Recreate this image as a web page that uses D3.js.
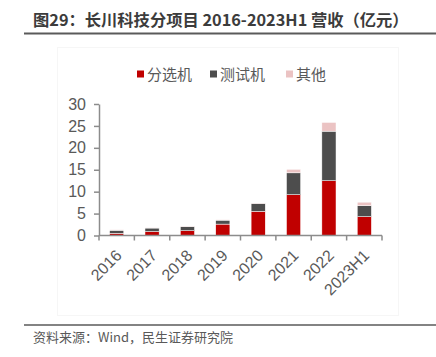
<!DOCTYPE html>
<html><head><meta charset="utf-8">
<script src="https://cdn.jsdelivr.net/npm/d3@7/dist/d3.min.js"></script>
<style>
html,body{margin:0;padding:0;background:#fff;}
svg{display:block;}
</style></head>
<body>
<script>
const categories = ["2016","2017","2018","2019","2020","2021","2022","2023H1"];
const sorter  = [0.5, 0.9, 1.1, 2.6, 5.5, 9.3, 12.5, 4.3];   // 分选机
const tester  = [0.7, 0.8, 0.9, 0.9, 1.8, 5.0, 11.3, 2.5];   // 测试机
const others  = [0.1, 0.1, 0.1, 0.1, 0.1, 0.8, 2.0, 0.8];    // 其他
const seriesNames = ["分选机","测试机","其他"];
const yTicks = [0,5,10,15,20,25,30];
const titleText = "图29：长川科技分项目 2016-2023H1 营收（亿元）";
const sourceText = "资料来源：Wind，民生证券研究院";

const W = 436, H = 357;
const colors = ["#C00000","#4D4D4D","#EBC3C3"];
const cjk = "'Noto Sans CJK SC','Noto Sans',sans-serif";
const num = "'Liberation Sans',Arial,sans-serif";

const svg = d3.select("body").append("svg").attr("width",W).attr("height",H);

// title
svg.append("text").attr("x",33).attr("y",26)
  .attr("font-family",cjk).attr("font-weight","bold").attr("font-size",16.3)
  .attr("fill","#3c3c3c").text(titleText);
svg.append("line").attr("x1",24).attr("x2",W).attr("y1",33.5).attr("y2",33.5)
  .attr("stroke","#5a5a5a").attr("stroke-width",1.8);

// faint chart area box
svg.append("rect").attr("x",57.5).attr("y",47.5).attr("width",341).attr("height",268)
  .attr("fill","none").attr("stroke","#f6f6f6").attr("stroke-width",1);

// footer
svg.append("line").attr("x1",24).attr("x2",W).attr("y1",325).attr("y2",325)
  .attr("stroke","#5a5a5a").attr("stroke-width",1.5);
svg.append("text").attr("x",33).attr("y",342)
  .attr("font-family",cjk).attr("font-size",13).attr("fill","#595959").text(sourceText);

// scales
const x = d3.scaleBand().domain(categories).range([99,382]).paddingInner(0.6).paddingOuter(0.3);
const y = d3.scaleLinear().domain([0,30]).range([235.5,104]);

const rows = categories.map((c,i)=>({cat:c, s0:sorter[i], s1:tester[i], s2:others[i]}));
const stack = d3.stack().keys(["s0","s1","s2"])(rows);

const g = svg.append("g");
stack.forEach((layer,k)=>{
  g.selectAll(null).data(layer).enter().append("rect")
    .attr("x",d=>x(d.data.cat))
    .attr("width",x.bandwidth())
    .attr("y",d=>y(d[1]))
    .attr("height",d=>y(d[0])-y(d[1]))
    .attr("fill",colors[k])
    .attr("stroke","#ffffff").attr("stroke-width",0.5);
});

// y axis
const yAxis = d3.axisLeft(y).tickValues(yTicks).tickSize(5).tickPadding(8).tickSizeOuter(0);
const ya = svg.append("g").attr("transform","translate(99,0)").call(yAxis);
ya.select(".domain").attr("stroke","#8c8c8c").attr("stroke-width",1.5);
ya.selectAll(".tick line").attr("stroke","#8c8c8c").attr("stroke-width",1.5);
ya.selectAll(".tick text").attr("font-family",num).attr("font-size",16).attr("fill","#595959");

// x axis
const xa = svg.append("g").attr("transform","translate(0,235.5)");
xa.append("line").attr("x1",99).attr("x2",382).attr("stroke","#8c8c8c").attr("stroke-width",1.5);
const bounds = d3.range(categories.length+1).map(i=>99 + i*(283/categories.length));
xa.selectAll(null).data(bounds).enter().append("line")
  .attr("x1",d=>d).attr("x2",d=>d).attr("y1",0).attr("y2",5)
  .attr("stroke","#8c8c8c").attr("stroke-width",1.5);
xa.selectAll(null).data(categories).enter().append("text")
  .attr("text-anchor","end")
  .attr("transform",d=>`translate(${x(d)+x.bandwidth()/2+6},21) rotate(-45)`)
  .attr("font-family",num).attr("font-size",16).attr("fill","#595959")
  .text(d=>d);

// legend
const legX = [137,210,286];
const lg = svg.append("g");
seriesNames.forEach((n,i)=>{
  lg.append("rect").attr("x",legX[i]).attr("y",70.5).attr("width",7).attr("height",7).attr("fill",colors[i]);
  lg.append("text").attr("x",legX[i]+10).attr("y",80)
    .attr("font-family",cjk).attr("font-size",15).attr("fill","#595959").text(n);
});
</script>
</body></html>
